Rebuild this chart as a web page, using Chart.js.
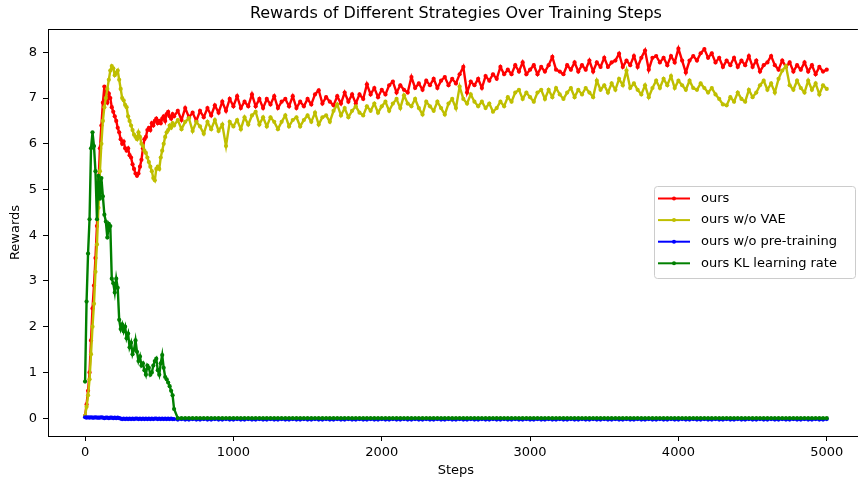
<!DOCTYPE html>
<html><head><meta charset="utf-8">
<script src="https://cdn.jsdelivr.net/npm/chart.js@4.4.1/dist/chart.umd.min.js"></script>
<style>html,body{margin:0;padding:0;background:#fff;overflow:hidden}#wrap{width:860px;height:480px}</style>
</head><body><div id="wrap"><canvas id="c"></canvas></div>
<script>
const titleText = 'Rewards of Different Strategies Over Training Steps';
const xLabel = 'Steps';
const yLabel = 'Rewards';
const seriesLabels = ['ours', 'ours w/o VAE', 'ours w/o pre-training', 'ours KL learning rate'];
const xTickValues = [0, 1000, 2000, 3000, 4000, 5000];
const yTickValues = [0, 1, 2, 3, 4, 5, 6, 7, 8];

const steps = [
  0,10,20,30,40,50,60,70,80,90,
  100,110,120,130,140,150,160,170,180,190,
  200,210,220,230,240,250,260,270,280,290,
  300,310,320,330,340,350,360,370,380,390,
  400,410,420,430,440,450,460,470,480,490,
  500,510,520,530,540,550,560,570,580,590,
  600,
  625,650,675,700, 725,750,775,800, 825,850,875,900, 925,950,975,1000,
  1025,1050,1075,1100, 1125,1150,1175,1200, 1225,1250,1275,1300, 1325,1350,1375,1400,
  1425,1450,1475,1500, 1525,1550,1575,1600, 1625,1650,1675,1700, 1725,1750,1775,1800,
  1825,1850,1875,1900, 1925,1950,1975,2000, 2025,2050,2075,2100, 2125,2150,2175,2200,
  2225,2250,2275,2300, 2325,2350,2375,2400, 2425,2450,2475,2500, 2525,2550,2575,2600,
  2625,2650,2675,2700, 2725,2750,2775,2800, 2825,2850,2875,2900, 2925,2950,2975,3000,
  3025,3050,3075,3100, 3125,3150,3175,3200, 3225,3250,3275,3300, 3325,3350,3375,3400,
  3425,3450,3475,3500, 3525,3550,3575,3600, 3625,3650,3675,3700, 3725,3750,3775,3800,
  3825,3850,3875,3900, 3925,3950,3975,4000, 4025,4050,4075,4100, 4125,4150,4175,4200,
  4225,4250,4275,4300, 4325,4350,4375,4400, 4425,4450,4475,4500, 4525,4550,4575,4600,
  4625,4650,4675,4700, 4725,4750,4775,4800, 4825,4850,4875,4900, 4925,4950,4975,5000
];

const oursValues = [
  0.05,0.3,0.6,1.0,1.7,2.4,2.9,3.5,4.2,5.1,
  5.9,6.4,6.9,7.25,6.95,6.9,7.1,7.0,6.8,6.7,
  6.6,6.5,6.35,6.25,6.1,6.0,6.05,5.9,5.85,5.9,
  5.75,5.7,5.55,5.45,5.35,5.3,5.35,5.5,5.65,5.9,
  6.1,6.15,6.3,6.35,6.3,6.45,6.4,6.5,6.55,6.45,
  6.5,6.45,6.55,6.6,6.5,6.65,6.7,6.6,6.55,6.65,
  6.6,
  6.72,6.52,6.78,6.58, 6.68,6.5,6.72,6.58, 6.78,6.62,6.84,6.68, 6.92,6.72,6.98,6.82,
  7.04,6.78,6.92,6.82, 7.08,6.82,6.98,6.78, 6.98,6.86,7.04,6.78, 6.92,6.98,6.82,7.04,
  6.78,6.92,6.82,6.98, 6.86,7.08,7.17,6.88, 7.02,6.92,6.84,7.04, 6.88,7.12,6.92,7.08,
  6.88,7.08,6.98,7.3, 7.08,7.22,7.02,7.18, 7.08,7.28,7.36,7.12, 7.28,7.18,7.12,7.46,
  7.22,7.32,7.18,7.38, 7.28,7.42,7.22,7.38, 7.46,7.28,7.42,7.32, 7.52,7.68,7.12,7.36,
  7.28,7.42,7.22,7.48, 7.38,7.52,7.42,7.68, 7.52,7.62,7.52,7.72, 7.58,7.78,7.52,7.62,
  7.72,7.52,7.68,7.58, 7.72,7.9,7.62,7.58, 7.52,7.72,7.62,7.78, 7.58,7.72,7.62,7.82,
  7.58,7.78,7.68,7.88, 7.68,7.78,7.82,7.97, 7.68,7.82,7.72,7.92, 7.68,7.88,8.04,7.62,
  7.88,7.92,7.78,7.88, 7.72,7.92,7.78,8.08, 7.82,7.56,7.82,7.92, 7.82,7.98,8.07,7.88,
  7.98,7.78,7.88,7.68, 7.82,7.72,7.88,7.68, 7.82,7.72,7.92,7.68, 7.82,7.58,7.72,7.78,
  7.92,7.72,7.62,7.82, 7.68,7.78,7.58,7.72, 7.62,7.78,7.58,7.72, 7.52,7.68,7.58,7.62
];

const noVaeValues = [
  0.05,0.25,0.5,0.85,1.4,2.0,2.5,3.2,3.8,4.6,
  5.4,6.0,6.5,6.8,7.0,7.2,7.4,7.6,7.7,7.65,
  7.5,7.55,7.6,7.4,7.2,7.0,6.95,6.85,6.8,6.6,
  6.5,6.4,6.3,6.2,6.15,6.1,6.25,6.15,6.0,5.95,
  5.85,5.8,5.7,5.6,5.5,5.4,5.25,5.2,5.45,5.5,
  5.45,5.7,5.85,6.0,6.15,6.25,6.3,6.4,6.35,6.45,
  6.4,
  6.52,6.32,6.48,6.56, 6.28,6.48,6.38,6.22, 6.48,6.32,6.52,6.28, 6.42,5.95,6.48,6.38,
  6.52,6.32,6.58,6.42, 6.62,6.7,6.42,6.58, 6.38,6.58,6.48,6.32, 6.48,6.62,6.38,6.52,
  6.58,6.38,6.52,6.62, 6.48,6.68,6.42,6.58, 6.62,6.48,6.72,6.86, 6.62,6.78,6.58,6.72,
  6.82,6.68,6.62,6.82, 6.72,6.88,6.68,6.82, 6.92,6.72,6.88,6.98, 6.78,7.06,6.88,6.82,
  6.98,6.78,6.64,6.92, 6.82,6.72,6.92,6.78, 6.64,6.88,6.98,6.78, 7.25,6.98,6.88,7.08,
  6.92,6.82,6.92,6.78, 6.88,6.7,6.78,6.92, 6.82,7.02,6.92,7.12, 7.18,6.98,7.12,7.02,
  6.92,7.12,7.18,6.98, 7.18,7.02,7.22,7.08, 6.98,7.12,7.22,7.02, 7.18,7.08,7.22,7.12,
  7.02,7.38,7.18,7.28, 7.12,7.32,7.18,7.42, 7.28,7.6,7.22,7.32, 7.18,7.08,7.28,7.02,
  7.22,7.38,7.22,7.42, 7.28,7.48,7.22,7.38, 7.28,7.18,7.38,7.22, 7.18,7.32,7.22,7.12,
  7.22,7.08,6.98,6.86, 6.84,7.02,6.92,7.12, 6.98,6.92,7.18,7.02, 7.12,7.28,7.38,7.18,
  7.32,7.12,7.42,7.6, 7.7,7.28,7.18,7.38, 7.22,7.12,7.38,7.18, 7.32,7.08,7.28,7.2
];

const noPretrainValues = [
  0.02,0.01,0.02,0.01,0.02,0.01,0.01,0.02,0.01,0.01,
  0.01,0.02,0.01,0.0,0.01,0.01,0.0,0.01,0.01,0.0,
  0.01,0.0,0.01,0.0,-0.01,-0.02,-0.01,-0.02,-0.01,-0.02,
  -0.01,-0.02,-0.01,-0.02,-0.01,-0.01,-0.02,-0.01,-0.02,-0.01,
  -0.02,-0.01,-0.02,-0.01,-0.02,-0.01,-0.02,-0.01,-0.01,-0.02,
  -0.01,-0.02,-0.01,-0.02,-0.01,-0.02,-0.01,-0.02,-0.01,-0.02,
  -0.02,
  -0.03,-0.02,-0.03,-0.03, -0.02,-0.03,-0.03,-0.02, -0.03,-0.03,-0.02,-0.03, -0.03,-0.02,-0.03,-0.03,
  -0.02,-0.03,-0.03,-0.02, -0.03,-0.03,-0.02,-0.03, -0.03,-0.02,-0.03,-0.03, -0.02,-0.03,-0.03,-0.02,
  -0.03,-0.03,-0.02,-0.03, -0.03,-0.02,-0.03,-0.03, -0.02,-0.03,-0.03,-0.02, -0.03,-0.03,-0.02,-0.03,
  -0.03,-0.02,-0.03,-0.03, -0.02,-0.03,-0.03,-0.02, -0.03,-0.03,-0.02,-0.03, -0.03,-0.02,-0.03,-0.03,
  -0.02,-0.03,-0.03,-0.02, -0.03,-0.03,-0.02,-0.03, -0.03,-0.02,-0.03,-0.03, -0.02,-0.03,-0.03,-0.02,
  -0.03,-0.03,-0.02,-0.03, -0.03,-0.02,-0.03,-0.03, -0.02,-0.03,-0.03,-0.02, -0.03,-0.03,-0.02,-0.03,
  -0.03,-0.02,-0.03,-0.03, -0.02,-0.03,-0.03,-0.02, -0.03,-0.03,-0.02,-0.03, -0.03,-0.02,-0.03,-0.03,
  -0.02,-0.03,-0.03,-0.02, -0.03,-0.03,-0.02,-0.03, -0.03,-0.02,-0.03,-0.03, -0.02,-0.03,-0.03,-0.02,
  -0.03,-0.03,-0.02,-0.03, -0.03,-0.02,-0.03,-0.03, -0.02,-0.03,-0.03,-0.02, -0.03,-0.03,-0.02,-0.03,
  -0.03,-0.02,-0.03,-0.03, -0.02,-0.03,-0.03,-0.02, -0.03,-0.03,-0.02,-0.03, -0.03,-0.02,-0.03,-0.03,
  -0.02,-0.03,-0.03,-0.02, -0.03,-0.03,-0.02,-0.03, -0.03,-0.02,-0.03,-0.03, -0.02,-0.03,-0.03,-0.02
];

const klLrValues = [
  0.8,2.55,3.6,4.35,5.9,6.25,5.95,5.4,4.35,5.3,
  4.8,5.25,4.85,4.45,4.3,3.95,4.25,4.2,3.05,2.95,
  2.75,3.05,2.85,2.15,1.95,2.05,1.9,2.0,1.75,1.85,
  1.55,1.65,1.4,1.5,1.7,1.45,1.25,1.35,1.15,1.2,
  1.05,0.95,1.15,1.1,0.95,1.0,1.15,1.25,1.3,1.05,
  0.95,1.2,1.38,1.1,0.9,0.85,0.78,0.7,0.6,0.5,
  0.2,
  0,0,0,0, 0,0,0,0, 0,0,0,0, 0,0,0,0,
  0,0,0,0, 0,0,0,0, 0,0,0,0, 0,0,0,0,
  0,0,0,0, 0,0,0,0, 0,0,0,0, 0,0,0,0,
  0,0,0,0, 0,0,0,0, 0,0,0,0, 0,0,0,0,
  0,0,0,0, 0,0,0,0, 0,0,0,0, 0,0,0,0,
  0,0,0,0, 0,0,0,0, 0,0,0,0, 0,0,0,0,
  0,0,0,0, 0,0,0,0, 0,0,0,0, 0,0,0,0,
  0,0,0,0, 0,0,0,0, 0,0,0,0, 0,0,0,0,
  0,0,0,0, 0,0,0,0, 0,0,0,0, 0,0,0,0,
  0,0,0,0, 0,0,0,0, 0,0,0,0, 0,0,0,0,
  0,0,0,0, 0,0,0,0, 0,0,0,0, 0,0,0,0
];

const seriesColors = ['#ff0000', '#bfbf00', '#0000ff', '#008000'];
const seriesValues = [oursValues, noVaeValues, noPretrainValues, klLrValues];
const FONT = '"DejaVu Sans", Verdana, sans-serif';

function makeDataset(i) {
  const vals = seriesValues[i];
  return {
    label: seriesLabels[i],
    data: steps.map((s, k) => ({ x: s, y: vals[k] })),
    borderColor: seriesColors[i],
    backgroundColor: seriesColors[i],
    pointBackgroundColor: seriesColors[i],
    pointBorderWidth: 0,
    pointRadius: 2.1,
    pointHoverRadius: 0,
    borderWidth: 2.4,
    tension: 0,
    fill: false,
    order: 4 - i
  };
}

const decorPlugin = {
  id: 'decor',
  afterDraw(chart) {
    const { ctx, chartArea: a, scales: { x } } = chart;
    ctx.save();
    ctx.strokeStyle = '#000';
    ctx.lineWidth = 1;
    ctx.beginPath();
    ctx.moveTo(a.left, Math.round(a.top) + 0.5);
    ctx.lineTo(a.right, Math.round(a.top) + 0.5);
    ctx.stroke();
    const cx = x.getPixelForValue(2500);
    ctx.fillStyle = '#000';
    ctx.textAlign = 'center';
    ctx.textBaseline = 'middle';
    ctx.font = '16px ' + FONT;
    ctx.fillText(titleText, cx, 14);
    ctx.font = '13px ' + FONT;
    ctx.fillText(xLabel, cx, 471);
    const bx = 654.5, by = 186.5, bw = 201, bh = 92;
    ctx.beginPath();
    ctx.roundRect(bx, by, bw, bh, 3);
    ctx.fillStyle = 'rgba(255,255,255,0.8)';
    ctx.fill();
    ctx.strokeStyle = '#cccccc';
    ctx.lineWidth = 1;
    ctx.stroke();
    ctx.textAlign = 'left';
    ctx.font = '13px ' + FONT;
    for (let i = 0; i < seriesLabels.length; i++) {
      const y = 198.5 + i * 21.6;
      ctx.strokeStyle = seriesColors[i];
      ctx.lineWidth = 2;
      ctx.beginPath();
      ctx.moveTo(658, y);
      ctx.lineTo(690, y);
      ctx.stroke();
      ctx.fillStyle = seriesColors[i];
      ctx.beginPath();
      ctx.arc(674, y, 2, 0, Math.PI * 2);
      ctx.fill();
      ctx.fillStyle = '#000';
      ctx.fillText(seriesLabels[i], 701, y);
    }
    ctx.restore();
  }
};

new Chart(document.getElementById('c'), {
  type: 'line',
  data: { datasets: [0, 1, 2, 3].map(makeDataset) },
  options: {
    responsive: true,
    maintainAspectRatio: false,
    animation: false,
    events: [],
    layout: { padding: { top: 29, left: 0, right: 0, bottom: 0 } },
    plugins: { legend: { display: false }, title: { display: false }, tooltip: { enabled: false } },
    scales: {
      x: {
        type: 'linear',
        min: -250,
        max: 5210,
        afterBuildTicks: ax => { ax.ticks = xTickValues.map(v => ({ value: v })); },
        afterFit: ax => { ax.height = 44; },
        grid: { drawOnChartArea: false, drawTicks: true, tickLength: 5, tickColor: '#000', tickWidth: 1 },
        border: { display: true, color: '#000', width: 1 },
        ticks: { color: '#000', font: { family: FONT, size: 13 }, padding: 4, maxRotation: 0, autoSkip: false, callback: v => String(v) }
      },
      y: {
        type: 'linear',
        min: -0.39,
        max: 8.51,
        afterBuildTicks: ax => { ax.ticks = yTickValues.map(v => ({ value: v })); },
        afterFit: ax => { ax.width = 48; },
        grid: { drawOnChartArea: false, drawTicks: true, tickLength: 5, tickColor: '#000', tickWidth: 1 },
        border: { display: true, color: '#000', width: 1 },
        ticks: { color: '#000', font: { family: FONT, size: 13 }, padding: 6, autoSkip: false, callback: v => String(v) },
        title: { display: true, text: yLabel, color: '#000', font: { family: FONT, size: 13 }, padding: { top: 8, bottom: 0 } }
      }
    }
  },
  plugins: [decorPlugin]
});
</script>
</body></html>
